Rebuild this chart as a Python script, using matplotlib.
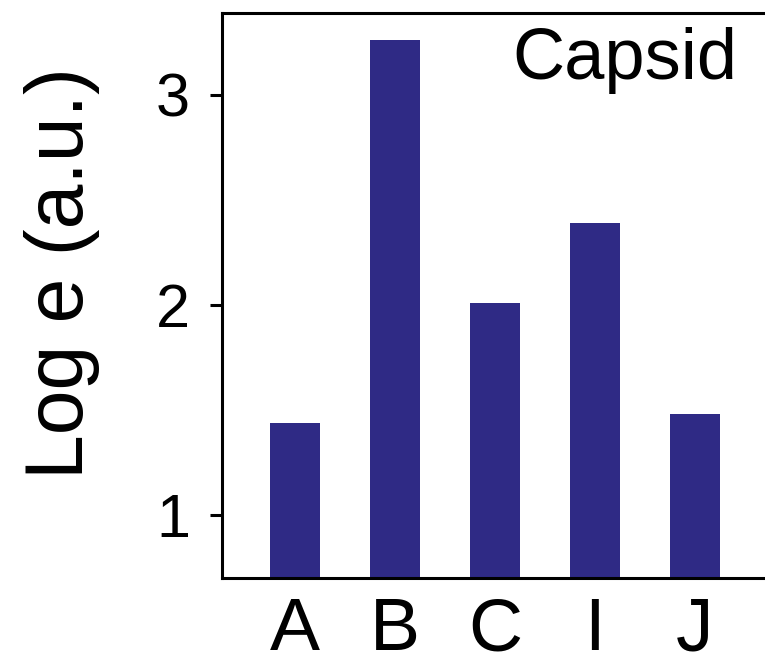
import matplotlib
matplotlib.use('Agg')
import matplotlib.pyplot as plt

plt.rcParams['font.family'] = ['Liberation Sans', 'DejaVu Sans']

# Capsid expression per group
groups = ['A', 'B', 'C', 'I', 'J']
log_e = [1.44, 3.26, 2.01, 2.39, 1.48]

bar_color = '#2f2a85'

fig = plt.figure(figsize=(7.65, 6.69), dpi=100)
ax = fig.add_axes([0.290, 0.136, 0.710, 0.845])

x = range(len(groups))
ax.bar(x, log_e, width=0.5, color=bar_color, bottom=0)
ax.set_xlim(-0.73, 4.7)
ax.set_ylim(0.7, 3.39)

ax.set_xticks(list(x))
ax.set_xticklabels(groups, fontsize=54)
ax.set_yticks([1, 2, 3])
ax.set_yticklabels(['1', '2', '3'], fontsize=44)
ax.tick_params(axis='x', length=0, pad=13)
ax.tick_params(axis='y', length=9, width=2.2, pad=14)

for side in ['left', 'bottom', 'top']:
    ax.spines[side].set_linewidth(2.2)
ax.spines['right'].set_visible(False)

ax.set_ylabel('Log e (a.u.)', fontsize=58)
ax.yaxis.set_label_coords(-0.225, 0.54)

ax.text(0.95, 0.975, 'Capsid', transform=ax.transAxes, fontsize=52,
        ha='right', va='top')

fig.savefig('out.png', dpi=100)
